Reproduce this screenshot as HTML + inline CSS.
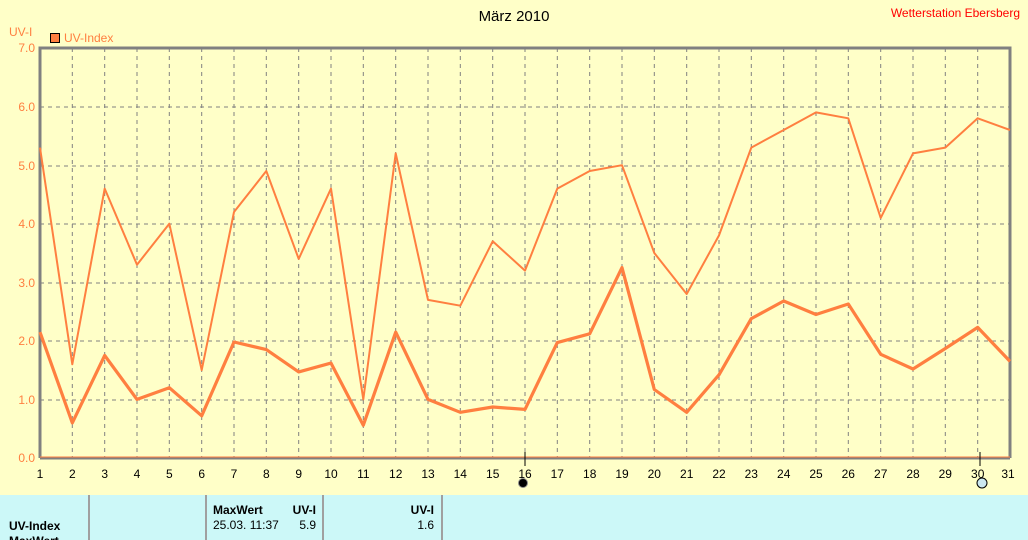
<!DOCTYPE html>
<html><head><meta charset="utf-8"><style>
body{margin:0;width:1028px;height:540px;overflow:hidden;background:#FFFFC8;font-family:"Liberation Sans",sans-serif}
</style></head><body>
<svg width="1028" height="540" xmlns="http://www.w3.org/2000/svg" style="position:absolute;left:0;top:0">
<rect x="0" y="0" width="1028" height="495" fill="#FFFFC8"/>
<rect x="0" y="495" width="1028" height="45" fill="#CCF8F8"/>
<g stroke="#A0A0A0" stroke-width="2">
<line x1="89" y1="495" x2="89" y2="540"/><line x1="206" y1="495" x2="206" y2="540"/><line x1="323" y1="495" x2="323" y2="540"/><line x1="442" y1="495" x2="442" y2="540"/>
</g>
<g stroke="#808080" stroke-width="1" stroke-dasharray="4,4">
<line x1="40" y1="107" x2="1010" y2="107"/><line x1="40" y1="166" x2="1010" y2="166"/><line x1="40" y1="224" x2="1010" y2="224"/><line x1="40" y1="283" x2="1010" y2="283"/><line x1="40" y1="341" x2="1010" y2="341"/><line x1="40" y1="400" x2="1010" y2="400"/>
<line x1="72.3" y1="48" x2="72.3" y2="458"/><line x1="104.7" y1="48" x2="104.7" y2="458"/><line x1="137" y1="48" x2="137" y2="458"/><line x1="169.3" y1="48" x2="169.3" y2="458"/><line x1="201.7" y1="48" x2="201.7" y2="458"/><line x1="234" y1="48" x2="234" y2="458"/><line x1="266.3" y1="48" x2="266.3" y2="458"/><line x1="298.7" y1="48" x2="298.7" y2="458"/><line x1="331" y1="48" x2="331" y2="458"/><line x1="363.3" y1="48" x2="363.3" y2="458"/><line x1="395.7" y1="48" x2="395.7" y2="458"/><line x1="428" y1="48" x2="428" y2="458"/><line x1="460.3" y1="48" x2="460.3" y2="458"/><line x1="492.7" y1="48" x2="492.7" y2="458"/><line x1="525" y1="48" x2="525" y2="458"/><line x1="557.3" y1="48" x2="557.3" y2="458"/><line x1="589.7" y1="48" x2="589.7" y2="458"/><line x1="622" y1="48" x2="622" y2="458"/><line x1="654.3" y1="48" x2="654.3" y2="458"/><line x1="686.7" y1="48" x2="686.7" y2="458"/><line x1="719" y1="48" x2="719" y2="458"/><line x1="751.3" y1="48" x2="751.3" y2="458"/><line x1="783.7" y1="48" x2="783.7" y2="458"/><line x1="816" y1="48" x2="816" y2="458"/><line x1="848.3" y1="48" x2="848.3" y2="458"/><line x1="880.7" y1="48" x2="880.7" y2="458"/><line x1="913" y1="48" x2="913" y2="458"/><line x1="945.3" y1="48" x2="945.3" y2="458"/><line x1="977.7" y1="48" x2="977.7" y2="458"/>
</g>
<g fill="none" stroke="#808080" stroke-width="3">
<polyline points="40,458 40,48 1010,48 1010,458"/>
<line x1="40" y1="458" x2="1010" y2="458"/>
</g>
<line x1="40" y1="457" x2="1010" y2="457" stroke="#FF7F40" stroke-width="1"/>
<line x1="525" y1="452" x2="525" y2="466" stroke="#000" stroke-width="1"/>
<line x1="980" y1="452" x2="980" y2="466" stroke="#000" stroke-width="1"/>
<g fill="none" stroke="#FF7F40" stroke-linejoin="round">
<polyline stroke-width="2" points="40,147.6 72.3,364.3 104.7,188.6 137,264.7 169.3,223.7 201.7,370.1 234,212 266.3,171 298.7,258.9 331,188.6 363.3,399.4 395.7,153.4 428,299.9 460.3,305.7 492.7,241.3 525,270.6 557.3,188.6 589.7,171 622,165.2 654.3,253 686.7,294 719,235.4 751.3,147.6 783.7,130 816,112.4 848.3,118.3 880.7,217.9 913,153.4 945.3,147.6 977.7,118.3 1010,130"/>
<polyline stroke-width="3.2" points="40,332.1 72.3,422.9 104.7,355.5 137,399.4 169.3,387.7 201.7,415.8 234,342 266.3,349.6 298.7,371.9 331,363.1 363.3,425.2 395.7,332.1 428,399.4 460.3,412.3 492.7,407 525,409.4 557.3,342.6 589.7,333.8 622,267.6 654.3,389.5 686.7,412.3 719,374.8 751.3,318.6 783.7,301 816,314.5 848.3,304 880.7,354.3 913,369 945.3,348.5 977.7,327.4 1010,361.4"/>
</g>
<g font-size="12" fill="#FF7F40" text-anchor="end">
<text x="35" y="52">7.0</text><text x="35" y="111">6.0</text><text x="35" y="170">5.0</text><text x="35" y="228">4.0</text><text x="35" y="287">3.0</text><text x="35" y="345">2.0</text><text x="35" y="404">1.0</text><text x="35" y="462">0.0</text>
</g>
<text x="9" y="36" font-size="12" fill="#FF7F40">UV-I</text>
<rect x="50.5" y="33.5" width="9" height="9" fill="#FF7F40" stroke="#000"/>
<text x="64" y="42" font-size="12" fill="#FF7F40">UV-Index</text>
<text x="514" y="21" font-size="15" fill="#000" text-anchor="middle">März 2010</text>
<text x="1020" y="17" font-size="12" fill="#FF0000" text-anchor="end">Wetterstation Ebersberg</text>
<g font-size="12" fill="#000" text-anchor="middle">
<text x="40" y="478">1</text><text x="72.3" y="478">2</text><text x="104.7" y="478">3</text><text x="137" y="478">4</text><text x="169.3" y="478">5</text><text x="201.7" y="478">6</text><text x="234" y="478">7</text><text x="266.3" y="478">8</text><text x="298.7" y="478">9</text><text x="331" y="478">10</text><text x="363.3" y="478">11</text><text x="395.7" y="478">12</text><text x="428" y="478">13</text><text x="460.3" y="478">14</text><text x="492.7" y="478">15</text><text x="525" y="478">16</text><text x="557.3" y="478">17</text><text x="589.7" y="478">18</text><text x="622" y="478">19</text><text x="654.3" y="478">20</text><text x="686.7" y="478">21</text><text x="719" y="478">22</text><text x="751.3" y="478">23</text><text x="783.7" y="478">24</text><text x="816" y="478">25</text><text x="848.3" y="478">26</text><text x="880.7" y="478">27</text><text x="913" y="478">28</text><text x="945.3" y="478">29</text><text x="977.7" y="478">30</text><text x="1008" y="478">31</text>
</g>
<circle cx="523" cy="483" r="4.5" fill="#000" stroke="#888"/>
<circle cx="982" cy="483" r="5" fill="#CCE8F0" stroke="#000"/>
<g font-size="12" fill="#000">
<text x="9" y="530" font-weight="bold">UV-Index</text>
<text x="9" y="545" font-weight="bold">MaxWert</text>
<text x="213" y="514" font-weight="bold">MaxWert</text>
<text x="316" y="514" font-weight="bold" text-anchor="end">UV-I</text>
<text x="213" y="529">25.03.  11:37</text>
<text x="316" y="529" text-anchor="end">5.9</text>
<text x="434" y="514" font-weight="bold" text-anchor="end">UV-I</text>
<text x="434" y="529" text-anchor="end">1.6</text>
</g>
</svg>
</body></html>
